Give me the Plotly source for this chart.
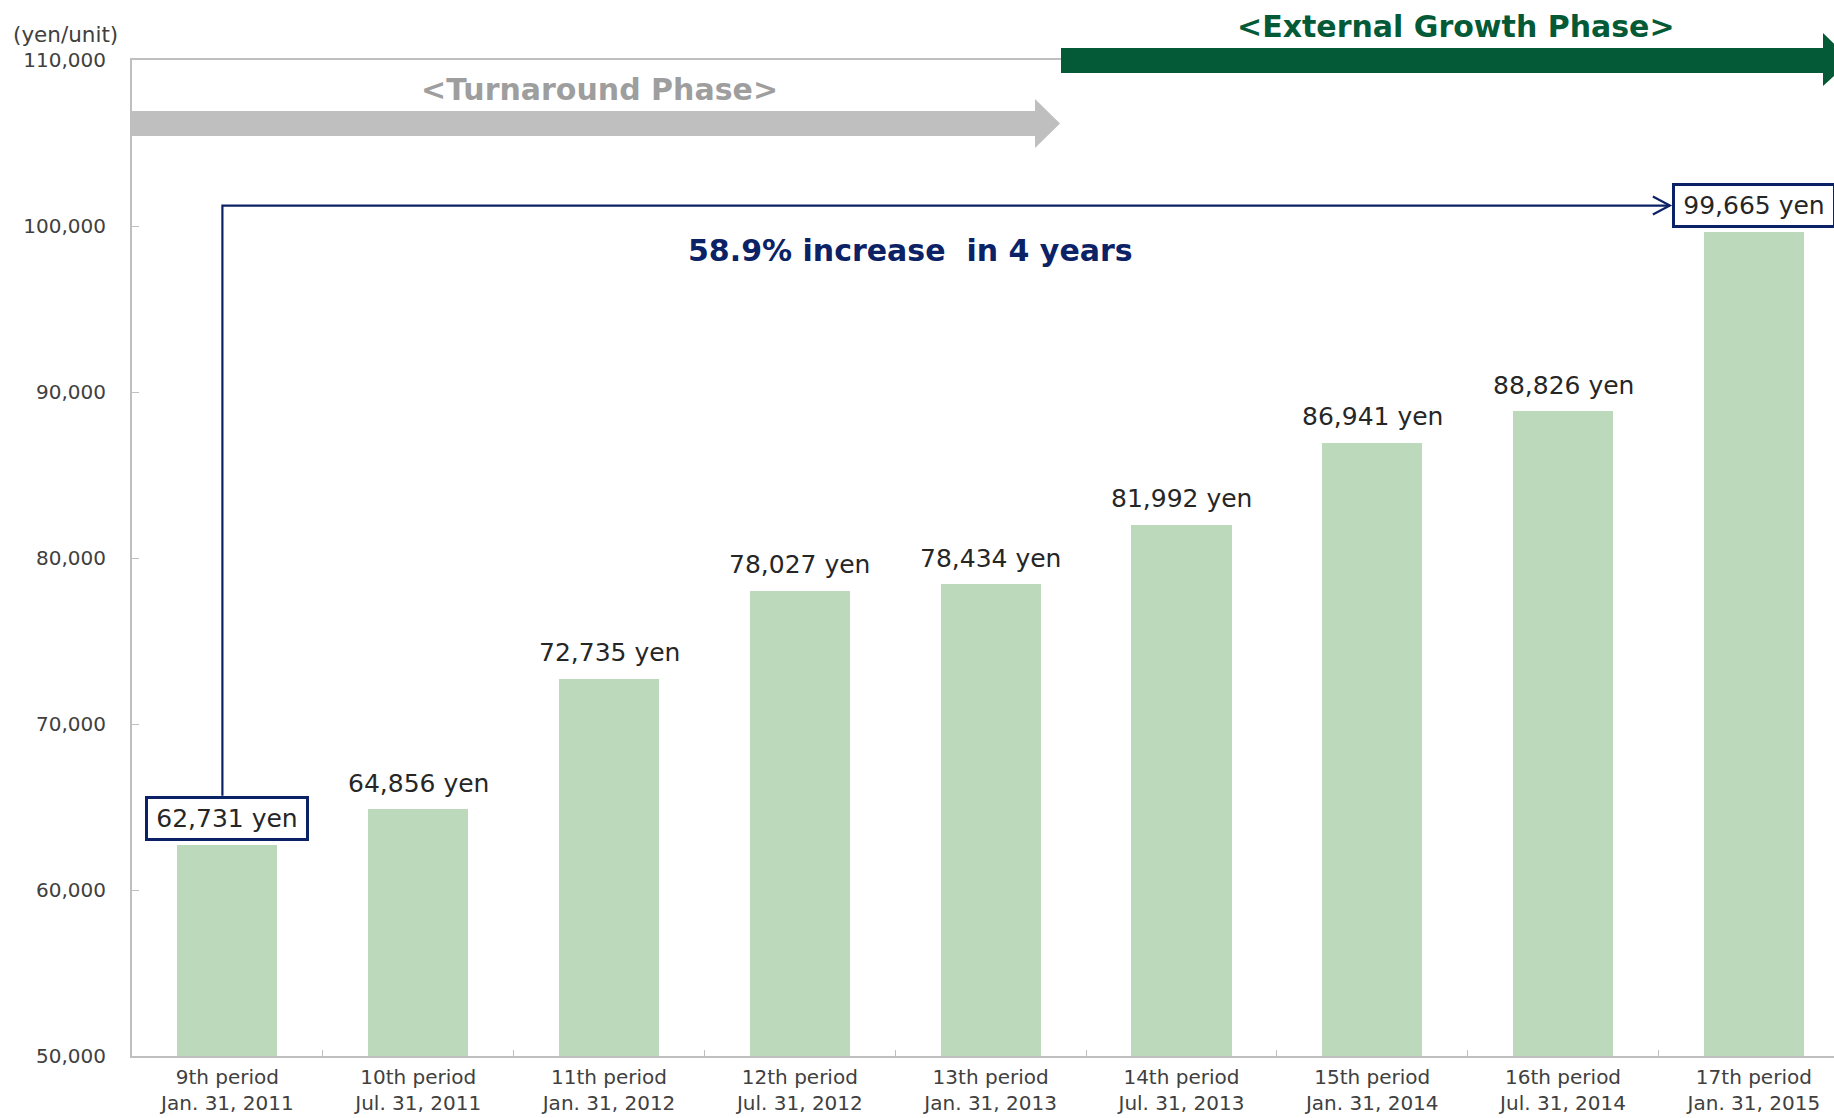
import plotly.graph_objects as go

# ---------------- data ----------------
periods = ["9th period", "10th period", "11th period", "12th period", "13th period",
           "14th period", "15th period", "16th period", "17th period"]
dates = ["Jan. 31, 2011", "Jul. 31, 2011", "Jan. 31, 2012", "Jul. 31, 2012", "Jan. 31, 2013",
         "Jul. 31, 2013", "Jan. 31, 2014", "Jul. 31, 2014", "Jan. 31, 2015"]
values = [62731, 64856, 72735, 78027, 78434, 81992, 86941, 88826, 99665]
boxed_idx = [0, 8]
y_ticks = [50000, 60000, 70000, 80000, 90000, 100000, 110000]
y_range = [50000, 110000]
x_range = [-0.5, 8.42]
increase_text = "58.9% increase\u00a0 in 4 years"
phase1_text = "&lt;Turnaround Phase&gt;"
phase2_text = "&lt;External Growth Phase&gt;"
unit_text = "(yen/unit)"

categories = [f"{p}<br>{d}" for p, d in zip(periods, dates)]

# ---------------- geometry / style ----------------
W, H = 1834, 1118
L, R, T, B = 132, 0, 60, 62
PW, PH = W - L - R, H - T - B
FONT = "Verdana, DejaVu Sans, sans-serif"
BAR = "#BCD9BC"
NAVY = "#0C2266"
GREEN = "#045A36"
GREYA = "#BFBFBF"
GREYT = "#9E9E9E"
TXT = "#262626"
AX = "#404040"


def xpx(i):
    return L + (i - x_range[0]) / (x_range[1] - x_range[0]) * PW


def ypx(v):
    return T + PH - (v - y_range[0]) / (y_range[1] - y_range[0]) * PH


def xp(px):
    return (px - L) / PW


def yp(py):
    return (T + PH - py) / PH


fig = go.Figure()
fig.add_trace(go.Bar(
    x=categories, y=values, width=0.525,
    marker=dict(color=BAR, line=dict(width=0)),
    hoverinfo="skip",
))

annotations = []
for i, (c, v) in enumerate(zip(categories, values)):
    a = dict(x=c, y=v, xref="x", yref="y", text=f"{v:,} yen", showarrow=False,
             yanchor="middle", xanchor="center", yshift=26,
             font=dict(family=FONT, size=25, color=TXT))
    if i in boxed_idx:
        a.update(bordercolor=NAVY, borderwidth=3, borderpad=5, width=148, height=29,
                 bgcolor="white")
    annotations.append(a)

annotations += [
    dict(x=xp(65), y=yp(35), xref="paper", yref="paper", text=unit_text, showarrow=False,
         font=dict(family=FONT, size=21.5, color=AX), xanchor="center", yanchor="middle"),
    dict(x=xp(599), y=yp(89), xref="paper", yref="paper", text=f"<b>{phase1_text}</b>",
         showarrow=False, font=dict(family=FONT, size=30, color=GREYT),
         xanchor="center", yanchor="middle"),
    dict(x=xp(1456), y=yp(26), xref="paper", yref="paper", text=f"<b>{phase2_text}</b>",
         showarrow=False, font=dict(family=FONT, size=30, color=GREEN),
         xanchor="center", yanchor="middle"),
    dict(x=xp(910), y=yp(250), xref="paper", yref="paper", text=f"<b>{increase_text}</b>",
         showarrow=False, font=dict(family=FONT, size=30, color=NAVY),
         xanchor="center", yanchor="middle"),
]

shapes = []
# grey turnaround arrow
g_l, g_r, g_tip = L, 1035, 1060
g_t, g_b, gh_t, gh_b = 111, 136, 99, 148
gm = (g_t + g_b) / 2
shapes.append(dict(
    type="path", xref="paper", yref="paper", layer="above",
    path=(f"M{xp(g_l)},{yp(g_t)} L{xp(g_r)},{yp(g_t)} L{xp(g_r)},{yp(gh_t)} "
          f"L{xp(g_tip)},{yp(gm)} L{xp(g_r)},{yp(gh_b)} L{xp(g_r)},{yp(g_b)} "
          f"L{xp(g_l)},{yp(g_b)} Z"),
    fillcolor=GREYA, line=dict(width=0)))
# green external growth arrow
e_l, e_r, e_tip = 1061, 1823, 1851
e_t, e_b, eh_t, eh_b = 48, 73, 33, 86
em = (e_t + e_b) / 2
shapes.append(dict(
    type="path", xref="paper", yref="paper", layer="above",
    path=(f"M{xp(e_l)},{yp(e_t)} L{xp(e_r)},{yp(e_t)} L{xp(e_r)},{yp(eh_t)} "
          f"L{xp(e_tip)},{yp(em)} L{xp(e_r)},{yp(eh_b)} L{xp(e_r)},{yp(e_b)} "
          f"L{xp(e_l)},{yp(e_b)} Z"),
    fillcolor=GREEN, line=dict(width=0)))

# connector from first to last label
x_v = xpx(0) - 5
y_bot = ypx(values[0]) - 26 - 23
y_lvl = ypx(values[-1]) - 26
x_end = xpx(8) - 82 - 2
shapes.append(dict(
    type="path", xref="paper", yref="paper", layer="above",
    path=f"M{xp(x_v)},{yp(y_bot)} L{xp(x_v)},{yp(y_lvl)} L{xp(x_end)},{yp(y_lvl)}",
    line=dict(color=NAVY, width=2.2)))
shapes.append(dict(
    type="path", xref="paper", yref="paper", layer="above",
    path=(f"M{xp(x_end - 17)},{yp(y_lvl - 9)} L{xp(x_end)},{yp(y_lvl)} "
          f"L{xp(x_end - 17)},{yp(y_lvl + 9)}"),
    line=dict(color=NAVY, width=2.2)))

fig.update_layout(
    width=W, height=H, autosize=False,
    margin=dict(l=L, r=R, t=T, b=B, pad=0),
    paper_bgcolor="white", plot_bgcolor="white",
    showlegend=False, bargap=0,
    annotations=annotations, shapes=shapes,
    font=dict(family=FONT, color=AX),
    xaxis=dict(type="category", range=x_range, showline=True, linecolor=GREYA, linewidth=2,
               mirror=True, ticks="inside", tickson="boundaries", ticklen=6,
               tickcolor=GREYA, tickfont=dict(family=FONT, size=20, color=AX),
               showgrid=False, fixedrange=True, ticklabelstandoff=2, automargin=False),
    yaxis=dict(range=y_range, tickvals=y_ticks, tickformat=",", showline=True,
               linecolor=GREYA, linewidth=2, ticks="inside", ticklen=7, tickcolor=GREYA,
               tickfont=dict(family=FONT, size=20, color=AX), showgrid=False,
               zeroline=False, ticklabelstandoff=20, fixedrange=True, automargin=False),
)

fig.write_html(
    "out.html",
    config={"displayModeBar": False},
    post_script="document.body.style.margin='0';document.body.style.padding='0';"
                "document.body.style.overflow='hidden';",
)
